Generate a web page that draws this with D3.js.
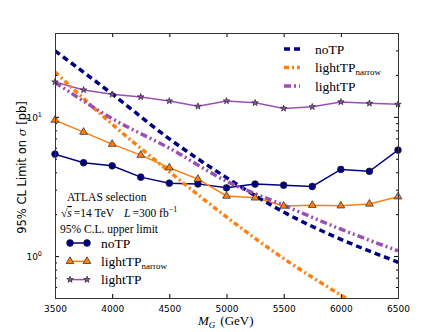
<!DOCTYPE html>
<html>
<head>
<meta charset="utf-8">
<script src="https://cdn.jsdelivr.net/npm/d3@7"></script>
<style>
  body { margin: 0; background: #fff; }
  svg { display: block; }
</style>
</head>
<body>
<div id="chart"></div>
<script>
// measured points (solid lines with markers)
var masses = [3500, 3750, 4000, 4250, 4500, 4750, 5000, 5250, 5500, 5750, 6000, 6250, 6500];
var noTP = [5.4, 4.68, 4.45, 3.69, 3.34, 3.30, 3.09, 3.29, 3.23, 3.16, 4.19, 4.06, 5.77];
var lightTPnarrow = [9.47, 7.77, 6.37, 5.31, 4.31, 3.57, 2.70, 2.62, 2.29, 2.32, 2.30, 2.37, 2.67];
var lightTP = [17.8, 15.6, 14.5, 13.9, 13.0, 11.9, 13.0, 12.6, 11.5, 11.8, 12.8, 12.5, 12.3];

// theory curves (thick dashed lines)
var theoryMasses = [3500, 4000, 4500, 5000, 5500, 6000, 6500];
var noTPTheory = [29.8, 14.6, 6.95, 3.66, 2.07, 1.32, 0.906];
var lightTPnarrowTheory = [21.0, 8.86, 4.04, 1.91, 0.96, 0.525, 0.30];
var lightTPTheory = [17.7, 9.7, 5.96, 3.45, 2.32, 1.56, 1.09];

var xTicks = [3500, 4000, 4500, 5000, 5500, 6000, 6500];
var yMajor = [1, 10];
var yMinor = [0.6, 0.7, 0.8, 0.9, 2, 3, 4, 5, 6, 7, 8, 9, 20, 30];

var navy = "#000080",
    orange = "#ff7f0e",
    purple = "#9b4fb5";

var margin = {top: 33, right: 45, bottom: 34, left: 55},
    width = 443 - margin.left - margin.right,
    height = 332 - margin.top - margin.bottom;

var svg = d3.select("#chart").append("svg")
    .attr("width", 443)
    .attr("height", 332);

var g = svg.append("g")
    .attr("transform", "translate(" + margin.left + "," + margin.top + ")");

var xScale = d3.scaleLinear().domain([3500, 6500]).range([0, width]);
var yScale = d3.scaleLog().domain([0.5, 40]).range([height, 0]);

g.append("clipPath").attr("id", "clip")
  .append("rect").attr("width", width).attr("height", height);

var plot = g.append("g").attr("clip-path", "url(#clip)");

var line = d3.line()
    .x(function(d){ return xScale(d[0]); })
    .y(function(d){ return yScale(d[1]); });

var smooth = d3.line()
    .x(function(d){ return xScale(d[0]); })
    .y(function(d){ return yScale(d[1]); })
    .curve(d3.curveMonotoneX);

function pairs(xs, ys){
  return xs.map(function(x, i){ return [x, ys[i]]; });
}

// thick theory lines
var theory = [
  {vals: noTPTheory, color: navy, dash: "6,4"},
  {vals: lightTPnarrowTheory, color: orange, dash: "5,3,2,3"},
  {vals: lightTPTheory, color: purple, dash: "7,3,2,3,2,3"}
];

// solid series with markers
var series = [
  {vals: noTP, color: navy, symbol: d3.symbolCircle, size: 36, fill: navy},
  {vals: lightTPnarrow, color: orange, symbol: d3.symbolTriangle, size: 26, fill: orange},
  {vals: lightTP, color: purple, symbol: d3.symbolStar, size: 13, fill: purple}
];

series.forEach(function(s){
  plot.append("path")
    .datum(pairs(masses, s.vals))
    .attr("d", line)
    .attr("fill", "none")
    .attr("stroke", s.color)
    .attr("stroke-width", 1.5);
});

theory.forEach(function(t){
  plot.append("path")
    .datum(pairs(theoryMasses, t.vals))
    .attr("d", smooth)
    .attr("fill", "none")
    .attr("stroke", t.color)
    .attr("stroke-width", 3.5)
    .attr("stroke-dasharray", t.dash);
});

series.forEach(function(s){
  g.selectAll(null)
    .data(pairs(masses, s.vals))
    .enter().append("path")
      .attr("d", d3.symbol().type(s.symbol).size(s.size))
      .attr("transform", function(d){
        return "translate(" + xScale(d[0]) + "," + yScale(d[1]) + ")";
      })
      .attr("fill", s.fill)
      .attr("stroke", "#222")
      .attr("stroke-width", 0.7);
});

// axes, ticks inward on all four sides
var bottomAxis = d3.axisBottom(xScale).tickValues(xTicks)
    .tickSizeInner(-4).tickSizeOuter(0).tickPadding(8)
    .tickFormat(d3.format("d"));
var xg = g.append("g").attr("transform", "translate(0," + height + ")").call(bottomAxis);
xg.select(".domain").remove();
xg.selectAll("text").attr("font-family", "DejaVu Sans").attr("font-size", 9).attr("fill", "#000");

var topAxis = d3.axisTop(xScale).tickValues(xTicks)
    .tickSizeInner(-4).tickSizeOuter(0).tickFormat("");
g.append("g").call(topAxis).select(".domain").remove();

function yAxes(values, size, side){
  var ax = (side == "left" ? d3.axisLeft(yScale) : d3.axisRight(yScale))
      .tickValues(values).tickSizeInner(-size).tickSizeOuter(0).tickFormat("");
  var ag = g.append("g").call(ax);
  if (side == "right") ag.attr("transform", "translate(" + width + ",0)");
  ag.select(".domain").remove();
  return ag;
}
yAxes(yMajor, 4, "left");
yAxes(yMinor, 2, "left");
yAxes(yMajor, 4, "right");
yAxes(yMinor, 2, "right");

g.selectAll(".tick line").attr("stroke", "#000");

// y tick labels 10^0, 10^1
yMajor.forEach(function(v){
  var t = g.append("text")
    .attr("x", -13)
    .attr("y", yScale(v) + 4)
    .attr("text-anchor", "end")
    .attr("font-family", "DejaVu Sans")
    .attr("font-size", 9)
    .text("10");
  t.append("tspan")
    .attr("dy", -4)
    .attr("font-size", 6.5)
    .text(Math.round(Math.log10(v)));
});

// frame
g.append("rect")
  .attr("x", 0.5).attr("y", 0.5)
  .attr("width", width).attr("height", height)
  .attr("fill", "none")
  .attr("stroke", "#333")
  .attr("stroke-width", 1);

// axis labels
svg.append("text")
  .attr("transform", "translate(26," + (margin.top + height / 2 + 2) + ") rotate(-90)")
  .attr("text-anchor", "middle")
  .attr("font-family", "DejaVu Sans")
  .attr("font-size", 11.5)
  .text("95% CL Limit on ")
  .append("tspan").attr("font-style", "italic").attr("font-family", "DejaVu Serif").text("σ")
  .select(function(){ return this.parentNode; })
  .append("tspan").text(" [pb]");

var xl = svg.append("text")
  .attr("x", 198).attr("y", 325)
  .attr("font-family", "Liberation Serif")
  .attr("font-size", 13);
xl.append("tspan").attr("font-style", "italic").text("M");
xl.append("tspan").attr("font-style", "italic").attr("font-size", 9).attr("dy", 3).text("G");
xl.append("tspan").attr("dy", -3).attr("dx", 5).text("(GeV)");

// top-right legend for theory lines
var legendTop = ["noTP", "lightTP", "lightTP"];
var legendSub = ["", "narrow", ""];
var serif = "Liberation Serif";

theory.forEach(function(t, i){
  var y = 49 + i * 18.5;
  svg.append("line")
    .attr("x1", 284).attr("x2", 300)
    .attr("y1", y).attr("y2", y)
    .attr("stroke", t.color)
    .attr("stroke-width", 3.5)
    .attr("stroke-dasharray", t.dash);
  var tx = svg.append("text")
    .attr("x", 315).attr("y", y + 4.5)
    .attr("font-family", serif)
    .attr("font-size", 13.5)
    .text(legendTop[i]);
  if (legendSub[i]) {
    tx.append("tspan").attr("dy", 3).attr("font-size", 9).text(legendSub[i]);
  }
});

// annotation
svg.append("text")
  .attr("x", 67).attr("y", 201)
  .attr("font-family", serif).attr("font-size", 11.5)
  .text("ATLAS selection");

var ann = svg.append("text")
  .attr("x", 61).attr("y", 217)
  .attr("font-family", serif).attr("font-size", 11.5);
ann.append("tspan").text("√");
ann.append("tspan").attr("font-style", "italic").attr("text-decoration", "overline").text("s");
ann.append("tspan").attr("dx", 2).text("=14 TeV");
ann.append("tspan").attr("dx", 10).attr("font-style", "italic").text("L");
ann.append("tspan").attr("dx", 2).text("=300 fb");
ann.append("tspan").attr("dy", -5).attr("font-size", 8).text("−1");

svg.append("text")
  .attr("x", 60).attr("y", 233)
  .attr("font-family", serif).attr("font-size", 11.5)
  .text("95% C.L. upper limit");

// bottom-left legend for measured series
series.forEach(function(s, i){
  var y = 243 + i * 18.3;
  svg.append("line")
    .attr("x1", 70).attr("x2", 87)
    .attr("y1", y).attr("y2", y)
    .attr("stroke", s.color)
    .attr("stroke-width", 1.5);
  [70, 87].forEach(function(x){
    svg.append("path")
      .attr("d", d3.symbol().type(s.symbol).size(s.size)())
      .attr("transform", "translate(" + x + "," + y + ")")
      .attr("fill", s.fill)
      .attr("stroke", "#222")
      .attr("stroke-width", 0.7);
  });
  var tx = svg.append("text")
    .attr("x", 101).attr("y", y + 4.5)
    .attr("font-family", serif)
    .attr("font-size", 13.5)
    .text(legendTop[i]);
  if (legendSub[i]) {
    tx.append("tspan").attr("dy", 3).attr("font-size", 9).text(legendSub[i]);
  }
});
</script>
</body>
</html>
